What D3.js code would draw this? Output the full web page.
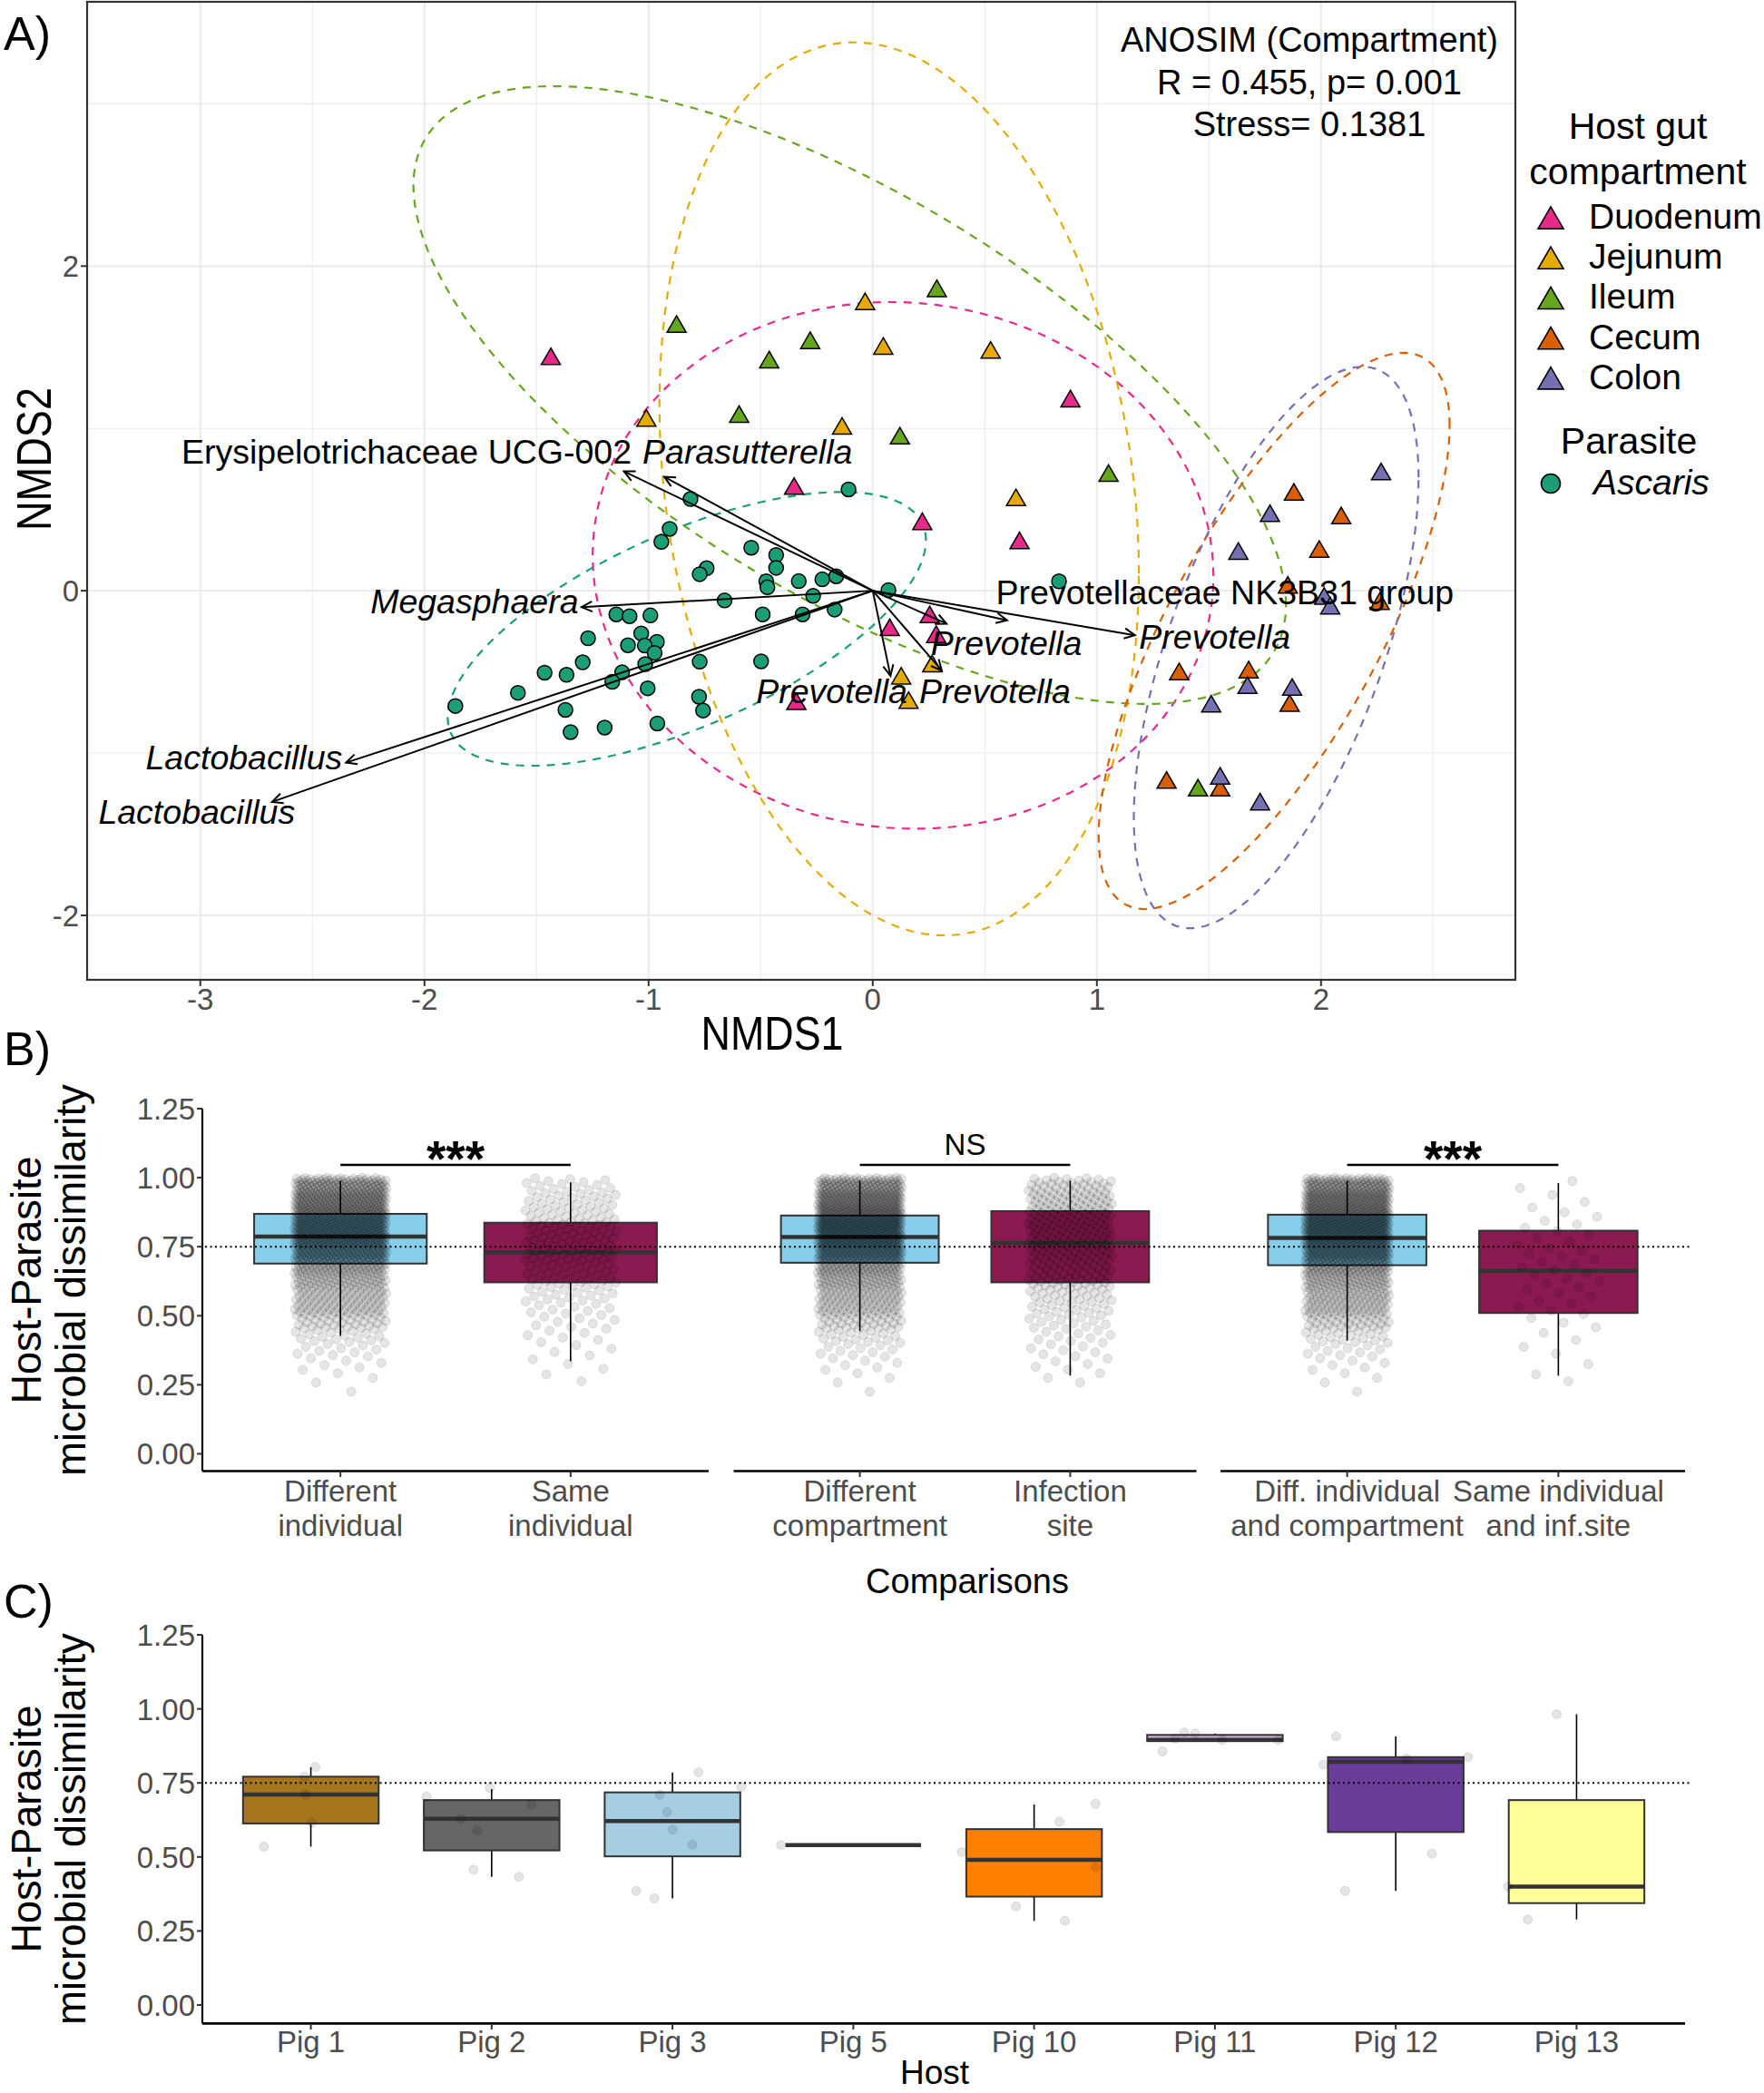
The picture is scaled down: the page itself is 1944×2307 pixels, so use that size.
<!DOCTYPE html>
<html>
<head>
<meta charset="utf-8">
<script src="https://cdn.jsdelivr.net/npm/d3@7"></script>
<style>
  body { margin: 0; background: #fff; }
  svg { display: block; font-family: "Liberation Sans", Arial, Helvetica, sans-serif; }
</style>
</head>
<body>
<div id="chart"></div>
<script>
/* Data: A) NMDS
-----------------------------------------------------------------------------*/
const compartments = ['Duodenum', 'Jejunum', 'Ileum', 'Cecum', 'Colon'];

const duodenumPts = [[-1.436, 1.444], [0.882, 1.184], [-0.351, 0.645], [0.221, 0.428], [0.655, 0.310],
  [0.254, -0.146], [0.076, -0.225], [0.283, -0.268], [-0.341, -0.681]];
const jejunumPts = [[-0.034, 1.783], [0.047, 1.508], [0.526, 1.484], [-1.010, 1.064], [-0.137, 1.015],
  [0.639, 0.575], [0.265, -0.449], [0.127, -0.524], [0.160, -0.674]];
const ileumPts = [[0.286, 1.863], [-0.875, 1.643], [-0.279, 1.543], [-0.462, 1.424], [-0.596, 1.088],
  [0.121, 0.955], [1.052, 0.725], [1.451, -1.213]];
const cecumPts = [[1.879, 0.609], [2.090, 0.464], [1.992, 0.257], [1.852, 0.036], [2.262, -0.064],
  [1.367, -0.497], [1.677, -0.486], [1.860, -0.692], [1.311, -1.166], [1.550, -1.213]];
const colonPts = [[2.268, 0.735], [1.772, 0.477], [1.631, 0.245], [2.014, -0.032], [2.041, -0.092],
  [1.672, -0.582], [1.871, -0.593], [1.510, -0.696], [1.550, -1.140], [1.728, -1.299]];
const ascarisPts = [[-0.813, 0.565], [-0.108, 0.624], [-0.906, 0.381], [-0.943, 0.301], [-0.542, 0.265],
  [-0.431, 0.220], [-0.431, 0.141], [-0.741, 0.139], [-0.772, 0.102], [-0.330, 0.059], [-0.225, 0.070],
  [-0.163, 0.089], [-0.475, 0.058], [-0.470, 0.021], [0.070, 0.004], [-0.661, -0.060], [-0.266, -0.032],
  [-1.144, -0.146], [-1.085, -0.157], [-0.992, -0.152], [-0.491, -0.146], [-0.313, -0.146], [-0.170, -0.116],
  [-1.270, -0.293], [-1.033, -0.263], [-0.963, -0.315], [-1.092, -0.336], [-1.017, -0.338], [-0.973, -0.383],
  [-1.294, -0.441], [-1.015, -0.452], [-0.772, -0.437], [-0.498, -0.435], [-1.464, -0.505], [-1.366, -0.518],
  [-1.118, -0.503], [-1.162, -0.561], [-1.004, -0.601], [-1.583, -0.629], [-1.862, -0.710], [-1.371, -0.734],
  [-0.775, -0.653], [-0.757, -0.738], [-1.348, -0.871], [-1.196, -0.843], [-0.961, -0.818], [0.831, 0.058]];

// envfit vectors: tip of arrow and label position, in NMDS units
const vectorNames = ['Erysipelotrichaceae UCG-002', 'Parasutterella', 'Megasphaera', 'Lactobacillus',
  'Lactobacillus', 'Prevotellaceae NK3B31 group', 'Prevotella', 'Prevotella', 'Prevotella', 'Prevotella'];
const vectorItalic = [false, true, true, true, true, false, true, true, true, true];
const vectorTipX = [-1.110, -0.930, -1.299, -2.350, -2.680, 0.599, 1.170, 0.329, 0.308, 0.079];
const vectorTipY = [0.735, 0.702, -0.101, -1.059, -1.301, -0.182, -0.274, -0.203, -0.492, -0.524];
const vectorLabelX = [-2.080, -0.559, -1.777, -2.805, -3.016, 1.571, 1.526, 0.596, 0.545, -0.183];
const vectorLabelY = [0.858, 0.858, -0.064, -1.026, -1.358, -0.005, -0.283, -0.321, -0.617, -0.617];

const anosimLines = ['ANOSIM (Compartment)', 'R = 0.455, p= 0.001', 'Stress= 0.1381'];
const nmdsXTicks = [-3, -2, -1, 0, 1, 2];
const nmdsYTicks = [-2, 0, 2];
const nmdsXMinor = [-2.5, -1.5, -0.5, 0.5, 1.5, 2.5];
const nmdsYMinor = [-1, 1, 3];

/* Data: B) comparisons
-----------------------------------------------------------------------------*/
const comparisonLabels = [['Different', 'individual'], ['Same', 'individual'], ['Different', 'compartment'],
  ['Infection', 'site'], ['Diff. individual', 'and compartment'], ['Same individual', 'and inf.site']];
const comparisonPanel = [0, 0, 1, 1, 2, 2];
const comparisonQ1 = [0.689, 0.621, 0.692, 0.621, 0.683, 0.510];
const comparisonMedian = [0.787, 0.729, 0.785, 0.764, 0.782, 0.663];
const comparisonQ3 = [0.869, 0.837, 0.863, 0.879, 0.866, 0.808];
const comparisonLow = [0.427, 0.335, 0.444, 0.283, 0.410, 0.283];
const comparisonHigh = [0.989, 0.983, 0.989, 0.989, 0.989, 0.981];
const significance = ['***', 'NS', '***'];

// dissimilarity histogram of the jittered pairs, bins of 0.05 starting at these values
const binStarts = [0.20, 0.25, 0.30, 0.35, 0.40, 0.45, 0.50, 0.55, 0.60, 0.65, 0.70, 0.75, 0.80, 0.85, 0.90, 0.95];
const comparisonCounts = [
  [1, 3, 6, 10, 16, 30, 48, 50, 62, 80, 118, 136, 142, 136, 124, 100],
  [0, 2, 3, 4, 6, 8, 10, 14, 20, 22, 26, 26, 24, 20, 18, 14],
  [1, 3, 6, 10, 16, 29, 46, 50, 62, 80, 118, 136, 146, 136, 118, 93],
  [0, 3, 5, 7, 9, 12, 16, 20, 28, 30, 36, 40, 40, 38, 36, 30],
  [1, 3, 6, 10, 17, 32, 50, 53, 65, 84, 118, 133, 140, 133, 121, 96],
  [0, 2, 1, 2, 2, 3, 4, 4, 5, 5, 5, 4, 4, 3, 2, 2]
];

/* Data: C) per host
-----------------------------------------------------------------------------*/
const pigs = ['Pig 1', 'Pig 2', 'Pig 3', 'Pig 5', 'Pig 10', 'Pig 11', 'Pig 12', 'Pig 13'];
const pigQ1 = [0.613, 0.522, 0.502, 0.540, 0.366, 0.891, 0.584, 0.344];
const pigMedian = [0.711, 0.629, 0.621, 0.540, 0.490, 0.895, 0.821, 0.400];
const pigQ3 = [0.771, 0.692, 0.718, 0.540, 0.594, 0.912, 0.837, 0.692];
const pigLow = [0.535, 0.433, 0.360, 0.540, 0.284, 0.891, 0.385, 0.289];
const pigHigh = [0.803, 0.729, 0.785, 0.540, 0.677, 0.917, 0.907, 0.982];
const pigValues = [
  [0.535, 0.616, 0.711, 0.771, 0.804],
  [0.704, 0.733, 0.677, 0.629, 0.589, 0.457, 0.433],
  [0.786, 0.737, 0.710, 0.651, 0.592, 0.541, 0.385, 0.360],
  [0.540],
  [0.679, 0.619, 0.516, 0.465, 0.333, 0.284],
  [0.920, 0.917, 0.900, 0.895, 0.895, 0.856],
  [0.907, 0.811, 0.832, 0.837, 0.511, 0.385],
  [0.982, 0.400, 0.289]
];
const pigJitter = [
  [-0.26, 0.006, -0.03, -0.035, 0.025],
  [-0.36, -0.01, 0.22, -0.17, -0.08, -0.10, 0.15],
  [0.144, 0.38, -0.07, -0.03, 0, 0.11, -0.20, -0.10],
  [-0.40],
  [0.34, 0.14, -0.40, 0.34, -0.10, 0.17],
  [-0.17, -0.11, -0.22, 0.04, 0.35, -0.29],
  [-0.33, -0.40, 0.06, 0.40, 0.20, -0.28],
  [-0.11, -0.38, -0.27]
];
const referenceLine = 0.75;
const dissimTicks = [0, 0.25, 0.5, 0.75, 1, 1.25];

/* Styles
-----------------------------------------------------------------------------*/
const compartmentColors = ['#E7298A', '#E6AB02', '#66A61E', '#D95F02', '#7570B3'];
const ascarisColor = '#1B9E77';
const comparisonFill = ['#87CEEB', '#8B1A50'];
const pigFill = ['#A6761D', '#666666', '#A6CEE3', '#1F78B4', '#FF7F00', '#CAB2D6', '#6A3D9A', '#FFFF99'];
const tickGrey = '#4D4D4D';

const svg = d3
  .select('#chart')
  .append('svg')
  .attr('width', 1944)
  .attr('height', 2307)
  .attr('xmlns', 'http://www.w3.org/2000/svg');

function text(g, x, y, str, size, opts = {}) {
  const t = g
    .append('text')
    .attr('x', x)
    .attr('y', y)
    .attr('font-size', size)
    .attr('fill', opts.fill || '#000')
    .attr('text-anchor', opts.anchor || 'start')
    .text(str);
  if (opts.italic) t.attr('font-style', 'italic');
  if (opts.weight) t.attr('font-weight', opts.weight);
  if (opts.length) t.attr('textLength', opts.length).attr('lengthAdjust', 'spacingAndGlyphs');
  if (opts.rotate) t.attr('transform', `rotate(-90, ${x}, ${y})`);
  return t;
}

function trianglePath(w) {
  const h = w * 0.866;
  return `M0,${-h / 2}L${w / 2},${h / 2}L${-w / 2},${h / 2}Z`;
}

/* Robust ellipse (t-distribution, as in stat_ellipse)
-----------------------------------------------------------------------------*/
function covTrob(pts) {
  const n = pts.length, nu = 5, p = 2;
  let loc = [d3.mean(pts, (d) => d[0]), d3.mean(pts, (d) => d[1])];
  let w = pts.map(() => 1);
  let X;
  for (let iter = 0; iter < 25; iter++) {
    const w0 = w;
    X = pts.map((d) => [d[0] - loc[0], d[1] - loc[1]]);
    const sw = d3.sum(w);
    let a = 0, b = 0, c = 0;
    X.forEach((v, i) => {
      a += w[i] * v[0] * v[0];
      b += w[i] * v[0] * v[1];
      c += w[i] * v[1] * v[1];
    });
    a /= sw; b /= sw; c /= sw;
    const det = a * c - b * b;
    const Q = X.map((v) => (c * v[0] * v[0] - 2 * b * v[0] * v[1] + a * v[1] * v[1]) / det);
    w = Q.map((q) => (nu + p) / (nu + q));
    const sw2 = d3.sum(w);
    loc = [d3.sum(pts, (d, i) => w[i] * d[0]) / sw2, d3.sum(pts, (d, i) => w[i] * d[1]) / sw2];
    if (w.every((v, i) => Math.abs(v - w0[i]) < 0.01)) break;
  }
  let a = 0, b = 0, c = 0;
  X.forEach((v, i) => {
    a += w[i] * v[0] * v[0];
    b += w[i] * v[0] * v[1];
    c += w[i] * v[1] * v[1];
  });
  return { center: loc, cov: [a / n, b / n, c / n] };
}

function ellipsePoints(pts, level = 0.95) {
  const { center, cov } = covTrob(pts);
  const dfd = pts.length - 1;
  const f = (dfd / 2) * (Math.pow(1 - level, -2 / dfd) - 1);
  const radius = Math.sqrt(2 * f);
  const r11 = Math.sqrt(cov[0]);
  const r12 = cov[1] / r11;
  const r22 = Math.sqrt(cov[2] - r12 * r12);
  return d3.range(0, 121).map((i) => {
    const t = (i / 120) * 2 * Math.PI;
    return [center[0] + radius * Math.cos(t) * r11,
      center[1] + radius * (Math.cos(t) * r12 + Math.sin(t) * r22)];
  });
}

/* A) NMDS
-----------------------------------------------------------------------------*/
const xA = d3.scaleLinear().domain([-3.505, 2.867]).range([96, 1670]);
const yA = d3.scaleLinear().domain([-2.397, 3.628]).range([1080, 2]);
const gA = svg.append('g');

svg.append('clipPath').attr('id', 'clipA').append('rect')
  .attr('x', xA.range()[0]).attr('y', yA.range()[1])
  .attr('width', xA.range()[1] - xA.range()[0]).attr('height', yA.range()[0] - yA.range()[1]);

const gridA = gA.append('g').attr('stroke', '#EBEBEB');
nmdsXMinor.forEach((v) => gridA.append('line').attr('x1', xA(v)).attr('x2', xA(v))
  .attr('y1', yA.range()[0]).attr('y2', yA.range()[1]).attr('stroke-width', 1.1));
nmdsYMinor.filter((v) => v < yA.domain()[1]).forEach((v) => gridA.append('line').attr('y1', yA(v)).attr('y2', yA(v))
  .attr('x1', xA.range()[0]).attr('x2', xA.range()[1]).attr('stroke-width', 1.1));
nmdsXTicks.forEach((v) => gridA.append('line').attr('x1', xA(v)).attr('x2', xA(v))
  .attr('y1', yA.range()[0]).attr('y2', yA.range()[1]).attr('stroke-width', 2.2));
nmdsYTicks.forEach((v) => gridA.append('line').attr('y1', yA(v)).attr('y2', yA(v))
  .attr('x1', xA.range()[0]).attr('x2', xA.range()[1]).attr('stroke-width', 2.2));

const hostGroups = [duodenumPts, jejunumPts, ileumPts, cecumPts, colonPts];
const plotA = gA.append('g').attr('clip-path', 'url(#clipA)');
const ellipseLine = d3.line().x((d) => xA(d[0])).y((d) => yA(d[1]));

hostGroups.concat([ascarisPts]).forEach((pts, i) => {
  plotA.append('path')
    .attr('d', ellipseLine(ellipsePoints(pts)))
    .attr('fill', 'none')
    .attr('stroke', i < 5 ? compartmentColors[i] : ascarisColor)
    .attr('stroke-width', 2.2)
    .attr('stroke-dasharray', '9,8');
});

plotA.selectAll('circle.ascaris').data(ascarisPts).join('circle')
  .attr('cx', (d) => xA(d[0])).attr('cy', (d) => yA(d[1])).attr('r', 8)
  .attr('fill', ascarisColor).attr('stroke', '#000').attr('stroke-width', 1.5);

hostGroups.forEach((pts, i) => {
  plotA.selectAll(null).data(pts).join('path')
    .attr('d', trianglePath(21))
    .attr('transform', (d) => `translate(${xA(d[0])},${yA(d[1])})`)
    .attr('fill', compartmentColors[i]).attr('stroke', '#000').attr('stroke-width', 1.5);
});

function arrowHead(x1, y1, x2, y2) {
  const a = Math.atan2(y2 - y1, x2 - x1), L = 13, s = Math.PI / 7;
  return `M${x2 - L * Math.cos(a - s)},${y2 - L * Math.sin(a - s)}L${x2},${y2}` +
    `L${x2 - L * Math.cos(a + s)},${y2 - L * Math.sin(a + s)}`;
}

const arrows = plotA.append('g').attr('stroke', '#000').attr('stroke-width', 2).attr('fill', 'none');
vectorNames.forEach((name, i) => {
  const x1 = xA(0), y1 = yA(0), x2 = xA(vectorTipX[i]), y2 = yA(vectorTipY[i]);
  arrows.append('line').attr('x1', x1).attr('y1', y1).attr('x2', x2).attr('y2', y2);
  arrows.append('path').attr('d', arrowHead(x1, y1, x2, y2));
});

vectorNames.forEach((name, i) => {
  text(gA, xA(vectorLabelX[i]), yA(vectorLabelY[i]) + 13.5, name, 37.5,
    { anchor: 'middle', italic: vectorItalic[i] });
});

anosimLines.forEach((line, i) => text(gA, 1443, 57 + i * 46.5, line, 38, { anchor: 'middle' }));

gA.append('rect')
  .attr('x', xA.range()[0]).attr('y', yA.range()[1])
  .attr('width', xA.range()[1] - xA.range()[0]).attr('height', yA.range()[0] - yA.range()[1])
  .attr('fill', 'none').attr('stroke', '#333').attr('stroke-width', 2.2);

nmdsXTicks.forEach((v) => {
  gA.append('line').attr('x1', xA(v)).attr('x2', xA(v)).attr('y1', 1080).attr('y2', 1087)
    .attr('stroke', '#333').attr('stroke-width', 2);
  text(gA, xA(v), 1113, v, 33, { anchor: 'middle', fill: tickGrey });
});
nmdsYTicks.forEach((v) => {
  gA.append('line').attr('x1', 89).attr('x2', 96).attr('y1', yA(v)).attr('y2', yA(v))
    .attr('stroke', '#333').attr('stroke-width', 2);
  text(gA, 87, yA(v) + 12, v, 33, { anchor: 'end', fill: tickGrey });
});

text(gA, 851, 1157, 'NMDS1', 52, { anchor: 'middle', length: 157 });
text(gA, 56, 506, 'NMDS2', 54, { anchor: 'middle', length: 158, rotate: true });
text(svg, 4, 55, 'A)', 52);

// legend
const legend = svg.append('g');
text(legend, 1805, 153, 'Host gut', 41, { anchor: 'middle' });
text(legend, 1805, 203, 'compartment', 41, { anchor: 'middle' });
compartments.forEach((c, i) => {
  const cy = 240 + i * 44.2;
  legend.append('path').attr('d', trianglePath(28))
    .attr('transform', `translate(1709,${cy})`)
    .attr('fill', compartmentColors[i]).attr('stroke', '#000').attr('stroke-width', 1.6);
  text(legend, 1751, cy + 12, c, 39);
});
text(legend, 1795, 500, 'Parasite', 41, { anchor: 'middle' });
legend.append('circle').attr('cx', 1709).attr('cy', 533).attr('r', 10.5)
  .attr('fill', ascarisColor).attr('stroke', '#000').attr('stroke-width', 1.6);
text(legend, 1756, 545, 'Ascaris', 39, { italic: true });

/* Shared helpers for B and C
-----------------------------------------------------------------------------*/
function boxplot(g, cx, width, y, s, fill) {
  g.append('line').attr('x1', cx).attr('x2', cx).attr('y1', y(s.q3)).attr('y2', y(s.high))
    .attr('stroke', '#000').attr('stroke-width', 1.6);
  g.append('line').attr('x1', cx).attr('x2', cx).attr('y1', y(s.q1)).attr('y2', y(s.low))
    .attr('stroke', '#000').attr('stroke-width', 1.6);
  g.append('rect').attr('x', cx - width / 2).attr('width', width)
    .attr('y', y(s.q3)).attr('height', Math.max(0, y(s.q1) - y(s.q3)))
    .attr('fill', fill).attr('stroke', '#333').attr('stroke-width', 2);
  g.append('line').attr('x1', cx - width / 2).attr('x2', cx + width / 2)
    .attr('y1', y(s.median)).attr('y2', y(s.median))
    .attr('stroke', '#333').attr('stroke-width', 4.5);
}

function dissimAxis(g, y, x0) {
  g.append('line').attr('x1', x0).attr('x2', x0).attr('y1', y.range()[0]).attr('y2', y(1.25))
    .attr('stroke', '#000').attr('stroke-width', 2.2);
  dissimTicks.forEach((v) => {
    g.append('line').attr('x1', x0 - 6).attr('x2', x0).attr('y1', y(v)).attr('y2', y(v))
      .attr('stroke', '#333').attr('stroke-width', 2);
    text(g, x0 - 8, y(v) + 12, d3.format('.2f')(v), 33, { anchor: 'end', fill: tickGrey });
  });
}

function dotStyle(sel) {
  return sel.attr('r', 5).attr('fill', '#000').attr('fill-opacity', 0.1)
    .attr('stroke', '#000').attr('stroke-opacity', 0.1).attr('stroke-width', 1);
}

/* B) comparisons
-----------------------------------------------------------------------------*/
const gB = svg.append('g');
const yB = d3.scaleLinear().domain([-0.0625, 1.25]).range([1621.5, 1222]);
const bPanels = [[223, 781], [808.5, 1318.5], [1345, 1857]];
const xB = bPanels.map((r, p) => d3.scalePoint()
  .domain(comparisonLabels.filter((l, i) => comparisonPanel[i] === p).map((l) => l.join(' ')))
  .range(r).padding(0.6));

comparisonLabels.forEach((lab, i) => {
  const sx = xB[comparisonPanel[i]];
  const cx = sx(lab.join(' '));
  const step = sx.step();
  boxplot(gB, cx, step * 0.75, yB, {
    q1: comparisonQ1[i], median: comparisonMedian[i], q3: comparisonQ3[i],
    low: comparisonLow[i], high: comparisonHigh[i]
  }, comparisonFill[i % 2]);

  // jittered pairs, spread across each histogram bin
  const vals = [];
  comparisonCounts[i].forEach((n, b) => {
    for (let k = 0; k < n; k++) vals.push(binStarts[b] + ((k + 0.5) / n) * 0.05);
  });
  gB.append('g').selectAll('circle').data(vals).join('circle')
    .attr('cx', (d, j) => cx + ((((j + 1) * 0.6180339887) % 1) * 2 - 1) * 0.2 * step)
    .attr('cy', (d) => yB(d))
    .call(dotStyle);
});

gB.append('line').attr('x1', 226).attr('x2', 1862)
  .attr('y1', yB(referenceLine)).attr('y2', yB(referenceLine))
  .attr('stroke', '#000').attr('stroke-width', 2).attr('stroke-dasharray', '2,3.5');

bPanels.forEach((r, p) => {
  gB.append('line').attr('x1', r[0]).attr('x2', r[1]).attr('y1', 1621.5).attr('y2', 1621.5)
    .attr('stroke', '#000').attr('stroke-width', 2.6);
  const sx = xB[p];
  sx.domain().forEach((d, k) => {
    gB.append('line').attr('x1', sx(d)).attr('x2', sx(d)).attr('y1', 1621.5).attr('y2', 1628)
      .attr('stroke', '#333').attr('stroke-width', 2);
    const lab = comparisonLabels[p * 2 + k];
    lab.forEach((line, li) => text(gB, sx(d), 1655 + li * 37.5, line, 33, { anchor: 'middle', fill: tickGrey }));
  });
  const [a, b] = sx.domain().map(sx);
  gB.append('line').attr('x1', a).attr('x2', b).attr('y1', 1284).attr('y2', 1284)
    .attr('stroke', '#000').attr('stroke-width', 2.6);
  if (significance[p] === 'NS') text(gB, (a + b) / 2, 1273, significance[p], 33, { anchor: 'middle' });
  else text(gB, (a + b) / 2, 1296, significance[p], 55, { anchor: 'middle', weight: 'bold' });
});

dissimAxis(gB, yB, 223);
text(gB, 45, 1411, 'Host-Parasite', 46, { anchor: 'middle', rotate: true, length: 273 });
text(gB, 94, 1411, 'microbial dissimilarity', 46, { anchor: 'middle', rotate: true, length: 432 });
text(gB, 1066, 1756, 'Comparisons', 38, { anchor: 'middle' });
text(svg, 4, 1174, 'B)', 52);

/* C) per host
-----------------------------------------------------------------------------*/
const gC = svg.append('g');
const yC = d3.scaleLinear().domain([-0.0625, 1.25]).range([2230.4, 1802]);
const xC = d3.scalePoint().domain(pigs).range([223, 1857]).padding(0.6);

pigs.forEach((pig, i) => {
  const cx = xC(pig);
  boxplot(gC, cx, xC.step() * 0.75, yC, {
    q1: pigQ1[i], median: pigMedian[i], q3: pigQ3[i], low: pigLow[i], high: pigHigh[i]
  }, pigFill[i]);
  gC.append('g').selectAll('circle').data(pigValues[i]).join('circle')
    .attr('cx', (d, j) => cx + pigJitter[i][j] * xC.step())
    .attr('cy', (d) => yC(d))
    .call(dotStyle);
});

gC.append('line').attr('x1', 226).attr('x2', 1862)
  .attr('y1', yC(referenceLine)).attr('y2', yC(referenceLine))
  .attr('stroke', '#000').attr('stroke-width', 2).attr('stroke-dasharray', '2,3.5');

gC.append('line').attr('x1', 223).attr('x2', 1857).attr('y1', 2230.4).attr('y2', 2230.4)
  .attr('stroke', '#000').attr('stroke-width', 2.6);
pigs.forEach((pig) => {
  gC.append('line').attr('x1', xC(pig)).attr('x2', xC(pig)).attr('y1', 2230.4).attr('y2', 2237)
    .attr('stroke', '#333').attr('stroke-width', 2);
  text(gC, xC(pig), 2262, pig, 33, { anchor: 'middle', fill: tickGrey });
});

dissimAxis(gC, yC, 223);
text(gC, 45, 2016, 'Host-Parasite', 46, { anchor: 'middle', rotate: true, length: 273 });
text(gC, 94, 2016, 'microbial dissimilarity', 46, { anchor: 'middle', rotate: true, length: 432 });
text(gC, 1030, 2297, 'Host', 37, { anchor: 'middle' });
text(svg, 4, 1783, 'C)', 52);
</script>
</body>
</html>
